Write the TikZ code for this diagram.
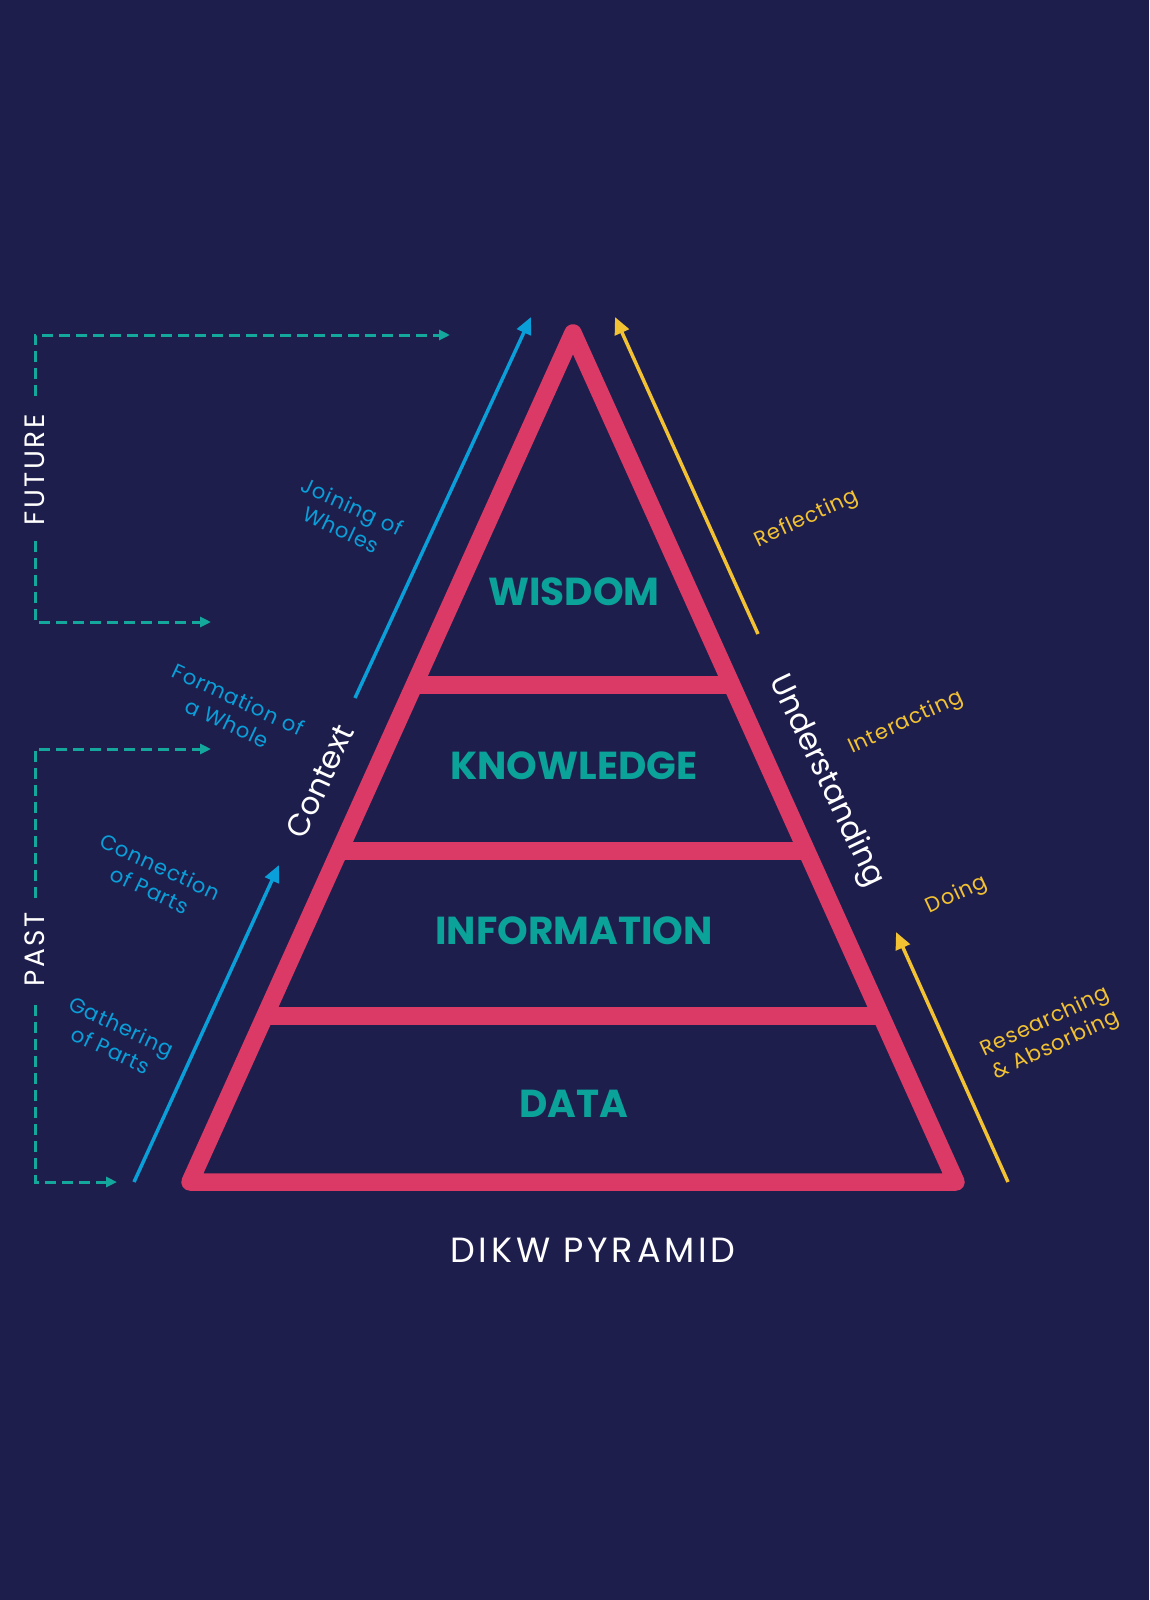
\documentclass[tikz,border=0pt]{standalone}
\usepackage{fontspec}
\setmainfont{Poppins}
\newfontfamily\lblfont[LetterSpace=4]{Poppins}
\newfontfamily\ttlfont[LetterSpace=11]{Poppins}
\newfontfamily\timefont[LetterSpace=9]{Poppins}
\usetikzlibrary{arrows.meta,calc}
\definecolor{bg}{HTML}{1E1E4D}
\definecolor{pinkC}{HTML}{DA3A65}
\definecolor{tealT}{HTML}{0BA29A}
\definecolor{tealD}{HTML}{14A79C}
\definecolor{blueC}{HTML}{0A9FD8}
\definecolor{yellowC}{HTML}{F2C232}
\tikzset{
  pyr/.style={draw=pinkC,line width=17.5pt,line join=round,line cap=round},
  level/.style={text=tealT,font=\bfseries\fontsize{39}{42}\selectfont,inner sep=0pt},
  dashline/.style={draw=tealD,line width=3pt,dash pattern=on 11pt off 6pt,-{Triangle[length=11pt,width=10pt]}},
  bluearrow/.style={draw=blueC,line width=3.5pt,-{Triangle[length=17pt,width=15pt]}},
  yelarrow/.style={draw=yellowC,line width=3.5pt,-{Triangle[length=17pt,width=15pt]}},
  bluelbl/.style={text=blueC,font=\lblfont\fontsize{21}{26}\selectfont,align=center,inner sep=0pt,rotate=-25},
  yellbl/.style={text=yellowC,font=\lblfont\fontsize{21}{26}\selectfont,align=center,inner sep=0pt,rotate=25},
  sidelbl/.style={text=white,font=\fontsize{31}{34}\selectfont,inner sep=0pt},
  timelbl/.style={text=white,font=\timefont\fontsize{28}{32}\selectfont,inner sep=0pt,rotate=90},
}
\begin{document}
\begin{tikzpicture}[x=1pt,y=-1pt]
\fill[bg] (0,0) rectangle (1149,1600);
\useasboundingbox (0,0) rectangle (1149,1600);

% pyramid
\coordinate (apex) at (573,333);
\coordinate (bl) at (190,1182);
\coordinate (br) at (956,1182);
\draw[pyr] (apex) -- (bl) -- (br) -- cycle;
\draw[pyr,line cap=butt] ($(apex)!0.4146!(bl)$) -- ($(apex)!0.4146!(br)$);
\draw[pyr,line cap=butt] ($(apex)!0.6101!(bl)$) -- ($(apex)!0.6101!(br)$);
\draw[pyr,line cap=butt] ($(apex)!0.8045!(bl)$) -- ($(apex)!0.8045!(br)$);

\node[level] (wis) at (574,592) {WISDOM};
\node[level] (kno) at (574,766) {KNOWLEDGE};
\node[level] (inf) at (574,931) {INFORMATION};
\node[level] (dat) at (574,1104) {DATA};

\node[text=white,font=\ttlfont\fontsize{35}{40}\selectfont,inner sep=0pt] (title) at (593,1250) {DIKW PYRAMID};

% time brackets
\node[timelbl] (future) at (35,470) {FUTURE};
\node[timelbl] (past) at (35,949) {PAST};
\coordinate (f0) at (35,396);
\coordinate (f1) at (35,335);
\coordinate (f2) at (450,335);
\coordinate (f3) at (35,541);
\coordinate (f4) at (35,622);
\coordinate (f5) at (211,622);
\draw[dashline] (f0) -- (f1) -- (f2);
\draw[dashline] (f3) -- (f4) -- (f5);
\coordinate (p0) at (35,898);
\coordinate (p1) at (35,749);
\coordinate (p2) at (211,749);
\coordinate (p3) at (35,1005);
\coordinate (p4) at (35,1182);
\coordinate (p5) at (117,1182);
\draw[dashline] (p0) -- (p1) -- (p2);
\draw[dashline] (p3) -- (p4) -- (p5);

% blue arrows
\coordinate (b1s) at (134,1182);
\coordinate (b1e) at (279,865);
\coordinate (b2s) at (355,698);
\coordinate (b2e) at (531,317);
\draw[bluearrow] (b1s) -- (b1e);
\draw[bluearrow] (b2s) -- (b2e);

% yellow arrows
\coordinate (y1s) at (1008,1182);
\coordinate (y1e) at (896,932);
\coordinate (y2s) at (758,634);
\coordinate (y2e) at (615,317);
\draw[yelarrow] (y1s) -- (y1e);
\draw[yelarrow] (y2s) -- (y2e);

% side labels
\node[sidelbl,rotate=65.5] (ctx) at (320,781) {Context};
\node[sidelbl,rotate=-64.5] (und) at (826,781) {Understanding};

\node[bluelbl] (l1) at (347,518) {Joining of\\Wholes};
\node[bluelbl] (l2) at (233,711) {Formation of\\a Whole};
\node[bluelbl] (l3) at (155,878) {Connection\\of Parts};
\node[bluelbl] (l4) at (116,1038) {Gathering\\of Parts};

\node[yellbl] (r1) at (807,519) {Reflecting};
\node[yellbl] (r2) at (906,723) {Interacting};
\node[yellbl] (r3) at (957,895) {Doing};
\node[yellbl] (r4) at (1051,1034) {Researching\\\& Absorbing};
\end{tikzpicture}
\end{document}
